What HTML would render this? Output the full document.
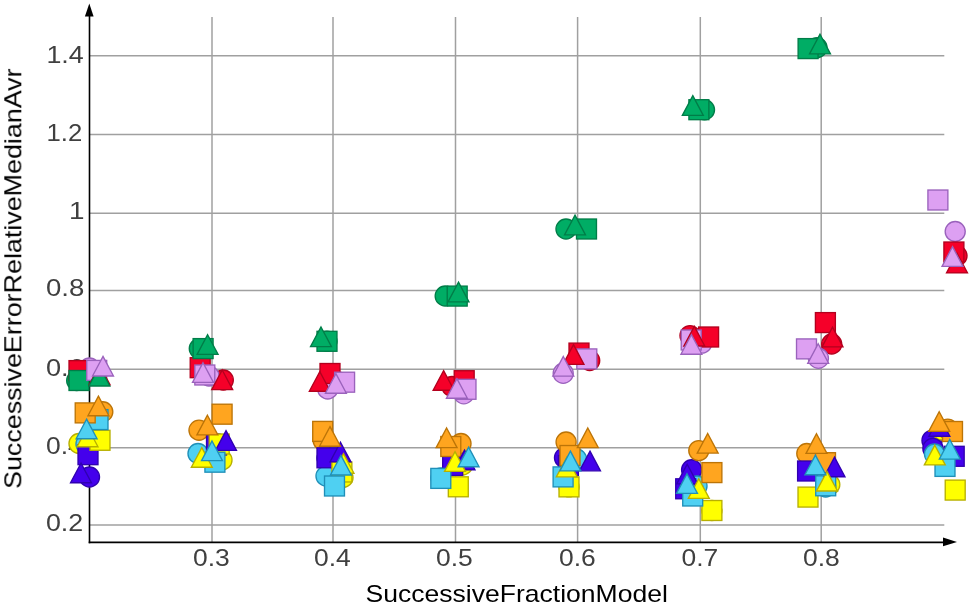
<!DOCTYPE html>
<html><head><meta charset="utf-8"><title>chart</title>
<style>
html,body{margin:0;padding:0;background:#fff;overflow:hidden;}
svg{display:block;}
text{filter:url(#gs);}
.tk{font-family:"Liberation Sans",sans-serif;font-size:24px;fill:#404040;}
.tt{font-family:"Liberation Sans",sans-serif;font-size:24px;fill:#000;}
</style></head>
<body>
<svg width="972" height="606" viewBox="0 0 972 606">
<defs><filter id="gs" x="-5%" y="-5%" width="110%" height="110%"><feColorMatrix type="identity"/></filter></defs>
<rect width="972" height="606" fill="#fff"/>
<line x1="212.0" y1="16.9" x2="212.0" y2="542" stroke="#a0a0a0" stroke-width="1.5"/>
<line x1="333.0" y1="16.9" x2="333.0" y2="542" stroke="#a0a0a0" stroke-width="1.5"/>
<line x1="455.5" y1="16.9" x2="455.5" y2="542" stroke="#a0a0a0" stroke-width="1.5"/>
<line x1="577.6" y1="16.9" x2="577.6" y2="542" stroke="#a0a0a0" stroke-width="1.5"/>
<line x1="700.3" y1="16.9" x2="700.3" y2="542" stroke="#a0a0a0" stroke-width="1.5"/>
<line x1="821.2" y1="16.9" x2="821.2" y2="542" stroke="#a0a0a0" stroke-width="1.5"/>
<line x1="90" y1="55.8" x2="944.3" y2="55.8" stroke="#a0a0a0" stroke-width="1.5"/>
<line x1="90" y1="134.4" x2="944.3" y2="134.4" stroke="#a0a0a0" stroke-width="1.5"/>
<line x1="90" y1="213.3" x2="944.3" y2="213.3" stroke="#a0a0a0" stroke-width="1.5"/>
<line x1="90" y1="290.5" x2="944.3" y2="290.5" stroke="#a0a0a0" stroke-width="1.5"/>
<line x1="90" y1="369.2" x2="944.3" y2="369.2" stroke="#a0a0a0" stroke-width="1.5"/>
<line x1="90" y1="447.8" x2="944.3" y2="447.8" stroke="#a0a0a0" stroke-width="1.5"/>
<line x1="90" y1="525.0" x2="944.3" y2="525.0" stroke="#a0a0a0" stroke-width="1.5"/>
<text x="46.45" y="62.5" class="tk" textLength="37.34" lengthAdjust="spacingAndGlyphs">1.4</text>
<text x="46.46" y="141.0" class="tk" textLength="35.75" lengthAdjust="spacingAndGlyphs">1.2</text>
<text x="68.95" y="219.0" class="tk" textLength="15.51" lengthAdjust="spacingAndGlyphs">1</text>
<text x="45.98" y="295.5" class="tk" textLength="38.37" lengthAdjust="spacingAndGlyphs">0.8</text>
<text x="45.98" y="375.5" class="tk" textLength="37.82" lengthAdjust="spacingAndGlyphs">0.6</text>
<text x="46.0" y="454.0" class="tk" textLength="36.79" lengthAdjust="spacingAndGlyphs">0.4</text>
<text x="45.96" y="531.0" class="tk" textLength="37.29" lengthAdjust="spacingAndGlyphs">0.2</text>
<text x="192.98" y="566.0" class="tk" textLength="36.78" lengthAdjust="spacingAndGlyphs">0.3</text>
<text x="313.98" y="566.0" class="tk" textLength="36.78" lengthAdjust="spacingAndGlyphs">0.4</text>
<text x="435.96" y="566.0" class="tk" textLength="36.8" lengthAdjust="spacingAndGlyphs">0.5</text>
<text x="558.98" y="566.0" class="tk" textLength="36.78" lengthAdjust="spacingAndGlyphs">0.6</text>
<text x="681.48" y="566.0" class="tk" textLength="36.78" lengthAdjust="spacingAndGlyphs">0.7</text>
<text x="802.96" y="566.0" class="tk" textLength="36.81" lengthAdjust="spacingAndGlyphs">0.8</text>
<line x1="89.5" y1="14" x2="89.5" y2="543.2" stroke="#000" stroke-width="1.6"/>
<line x1="88.7" y1="542.4" x2="945" y2="542.4" stroke="#000" stroke-width="1.6"/>
<path d="M89.3 3.5L93.6 16.5L84.9 16.5Z" fill="#000"/>
<path d="M957 541.9L943 537.5L943 546.3Z" fill="#000"/>
<text x="365.58" y="602.0" class="tt" textLength="302.31" lengthAdjust="spacingAndGlyphs">SuccessiveFractionModel</text>
<text transform="translate(21.3,488.9) rotate(-90)" class="tt" textLength="420.5" lengthAdjust="spacingAndGlyphs">SuccessiveErrorRelativeMedianAvr</text>
<circle cx="80.00" cy="372.00" r="10.02" fill="#f50029" stroke="#b3001e" stroke-width="1.35"/>
<circle cx="223.30" cy="380.00" r="10.02" fill="#f50029" stroke="#b3001e" stroke-width="1.35"/>
<circle cx="338.00" cy="382.00" r="10.02" fill="#f50029" stroke="#b3001e" stroke-width="1.35"/>
<circle cx="452.00" cy="386.50" r="10.02" fill="#f50029" stroke="#b3001e" stroke-width="1.35"/>
<circle cx="589.70" cy="360.50" r="10.02" fill="#f50029" stroke="#b3001e" stroke-width="1.35"/>
<circle cx="690.00" cy="335.60" r="10.02" fill="#f50029" stroke="#b3001e" stroke-width="1.35"/>
<circle cx="831.70" cy="344.00" r="10.02" fill="#f50029" stroke="#b3001e" stroke-width="1.35"/>
<circle cx="957.00" cy="255.80" r="10.02" fill="#f50029" stroke="#b3001e" stroke-width="1.35"/>
<circle cx="76.70" cy="380.50" r="10.02" fill="#00ad65" stroke="#007d48" stroke-width="1.35"/>
<circle cx="199.30" cy="348.60" r="10.02" fill="#00ad65" stroke="#007d48" stroke-width="1.35"/>
<circle cx="327.00" cy="341.30" r="10.02" fill="#00ad65" stroke="#007d48" stroke-width="1.35"/>
<circle cx="445.20" cy="296.00" r="10.02" fill="#00ad65" stroke="#007d48" stroke-width="1.35"/>
<circle cx="566.00" cy="229.00" r="10.02" fill="#00ad65" stroke="#007d48" stroke-width="1.35"/>
<circle cx="704.50" cy="109.80" r="10.02" fill="#00ad65" stroke="#007d48" stroke-width="1.35"/>
<circle cx="817.00" cy="47.60" r="10.02" fill="#00ad65" stroke="#007d48" stroke-width="1.35"/>
<circle cx="89.50" cy="368.00" r="10.02" fill="#dda0f2" stroke="#9a62bc" stroke-width="1.35"/>
<circle cx="209.00" cy="376.00" r="10.02" fill="#dda0f2" stroke="#9a62bc" stroke-width="1.35"/>
<circle cx="327.70" cy="389.00" r="10.02" fill="#dda0f2" stroke="#9a62bc" stroke-width="1.35"/>
<circle cx="463.80" cy="393.80" r="10.02" fill="#dda0f2" stroke="#9a62bc" stroke-width="1.35"/>
<circle cx="563.20" cy="373.30" r="10.02" fill="#dda0f2" stroke="#9a62bc" stroke-width="1.35"/>
<circle cx="701.80" cy="343.10" r="10.02" fill="#dda0f2" stroke="#9a62bc" stroke-width="1.35"/>
<circle cx="818.40" cy="358.30" r="10.02" fill="#dda0f2" stroke="#9a62bc" stroke-width="1.35"/>
<circle cx="955.20" cy="231.50" r="10.02" fill="#dda0f2" stroke="#9a62bc" stroke-width="1.35"/>
<circle cx="89.50" cy="477.00" r="10.02" fill="#4400ec" stroke="#3000b0" stroke-width="1.35"/>
<circle cx="218.00" cy="444.00" r="10.02" fill="#4400ec" stroke="#3000b0" stroke-width="1.35"/>
<circle cx="327.00" cy="458.00" r="10.02" fill="#4400ec" stroke="#3000b0" stroke-width="1.35"/>
<circle cx="452.70" cy="465.50" r="10.02" fill="#4400ec" stroke="#3000b0" stroke-width="1.35"/>
<circle cx="564.50" cy="457.70" r="10.02" fill="#4400ec" stroke="#3000b0" stroke-width="1.35"/>
<circle cx="691.60" cy="469.80" r="10.02" fill="#4400ec" stroke="#3000b0" stroke-width="1.35"/>
<circle cx="810.00" cy="468.00" r="10.02" fill="#4400ec" stroke="#3000b0" stroke-width="1.35"/>
<circle cx="932.00" cy="440.40" r="10.02" fill="#4400ec" stroke="#3000b0" stroke-width="1.35"/>
<circle cx="79.00" cy="443.50" r="10.02" fill="#ffff00" stroke="#b8b000" stroke-width="1.35"/>
<circle cx="222.00" cy="460.00" r="10.02" fill="#ffff00" stroke="#b8b000" stroke-width="1.35"/>
<circle cx="343.00" cy="477.50" r="10.02" fill="#ffff00" stroke="#b8b000" stroke-width="1.35"/>
<circle cx="462.50" cy="465.00" r="10.02" fill="#ffff00" stroke="#b8b000" stroke-width="1.35"/>
<circle cx="569.00" cy="486.90" r="10.02" fill="#ffff00" stroke="#b8b000" stroke-width="1.35"/>
<circle cx="711.90" cy="510.50" r="10.02" fill="#ffff00" stroke="#b8b000" stroke-width="1.35"/>
<circle cx="829.80" cy="484.60" r="10.02" fill="#ffff00" stroke="#b8b000" stroke-width="1.35"/>
<circle cx="942.00" cy="430.00" r="10.02" fill="#ffff00" stroke="#b8b000" stroke-width="1.35"/>
<circle cx="932.90" cy="448.40" r="10.02" fill="#4400ec" stroke="#3000b0" stroke-width="1.35"/>
<circle cx="86.00" cy="444.00" r="10.02" fill="#4fd0f2" stroke="#1f8fb8" stroke-width="1.35"/>
<circle cx="198.00" cy="453.50" r="10.02" fill="#4fd0f2" stroke="#1f8fb8" stroke-width="1.35"/>
<circle cx="326.00" cy="476.00" r="10.02" fill="#4fd0f2" stroke="#1f8fb8" stroke-width="1.35"/>
<circle cx="441.00" cy="478.00" r="10.02" fill="#4fd0f2" stroke="#1f8fb8" stroke-width="1.35"/>
<circle cx="576.50" cy="459.00" r="10.02" fill="#4fd0f2" stroke="#1f8fb8" stroke-width="1.35"/>
<circle cx="697.00" cy="486.00" r="10.02" fill="#4fd0f2" stroke="#1f8fb8" stroke-width="1.35"/>
<circle cx="825.70" cy="487.00" r="10.02" fill="#4fd0f2" stroke="#1f8fb8" stroke-width="1.35"/>
<circle cx="934.50" cy="454.00" r="10.02" fill="#4fd0f2" stroke="#1f8fb8" stroke-width="1.35"/>
<circle cx="102.80" cy="411.80" r="10.02" fill="#ffa51f" stroke="#bc7407" stroke-width="1.35"/>
<circle cx="199.00" cy="430.20" r="10.02" fill="#ffa51f" stroke="#bc7407" stroke-width="1.35"/>
<circle cx="323.20" cy="440.50" r="10.02" fill="#ffa51f" stroke="#bc7407" stroke-width="1.35"/>
<circle cx="461.00" cy="443.50" r="10.02" fill="#ffa51f" stroke="#bc7407" stroke-width="1.35"/>
<circle cx="566.10" cy="442.00" r="10.02" fill="#ffa51f" stroke="#bc7407" stroke-width="1.35"/>
<circle cx="698.80" cy="450.60" r="10.02" fill="#ffa51f" stroke="#bc7407" stroke-width="1.35"/>
<circle cx="806.80" cy="453.50" r="10.02" fill="#ffa51f" stroke="#bc7407" stroke-width="1.35"/>
<circle cx="947.70" cy="429.10" r="10.02" fill="#ffa51f" stroke="#bc7407" stroke-width="1.35"/>
<rect x="69.03" y="360.62" width="19.95" height="19.95" fill="#f50029" stroke="#b3001e" stroke-width="1.35"/>
<rect x="190.22" y="357.72" width="19.95" height="19.95" fill="#f50029" stroke="#b3001e" stroke-width="1.35"/>
<rect x="320.02" y="363.52" width="19.95" height="19.95" fill="#f50029" stroke="#b3001e" stroke-width="1.35"/>
<rect x="454.22" y="370.72" width="19.95" height="19.95" fill="#f50029" stroke="#b3001e" stroke-width="1.35"/>
<rect x="569.02" y="343.12" width="19.95" height="19.95" fill="#f50029" stroke="#b3001e" stroke-width="1.35"/>
<rect x="698.62" y="327.02" width="19.95" height="19.95" fill="#f50029" stroke="#b3001e" stroke-width="1.35"/>
<rect x="815.42" y="312.62" width="19.95" height="19.95" fill="#f50029" stroke="#b3001e" stroke-width="1.35"/>
<rect x="943.92" y="242.03" width="19.95" height="19.95" fill="#f50029" stroke="#b3001e" stroke-width="1.35"/>
<rect x="69.03" y="370.52" width="19.95" height="19.95" fill="#00ad65" stroke="#007d48" stroke-width="1.35"/>
<rect x="193.12" y="338.62" width="19.95" height="19.95" fill="#00ad65" stroke="#007d48" stroke-width="1.35"/>
<rect x="317.02" y="331.32" width="19.95" height="19.95" fill="#00ad65" stroke="#007d48" stroke-width="1.35"/>
<rect x="447.22" y="286.12" width="19.95" height="19.95" fill="#00ad65" stroke="#007d48" stroke-width="1.35"/>
<rect x="576.52" y="219.03" width="19.95" height="19.95" fill="#00ad65" stroke="#007d48" stroke-width="1.35"/>
<rect x="688.92" y="99.73" width="19.95" height="19.95" fill="#00ad65" stroke="#007d48" stroke-width="1.35"/>
<rect x="798.12" y="38.62" width="19.95" height="19.95" fill="#00ad65" stroke="#007d48" stroke-width="1.35"/>
<rect x="86.73" y="360.42" width="19.95" height="19.95" fill="#dda0f2" stroke="#9a62bc" stroke-width="1.35"/>
<rect x="194.83" y="365.02" width="19.95" height="19.95" fill="#dda0f2" stroke="#9a62bc" stroke-width="1.35"/>
<rect x="334.62" y="372.22" width="19.95" height="19.95" fill="#dda0f2" stroke="#9a62bc" stroke-width="1.35"/>
<rect x="456.02" y="379.32" width="19.95" height="19.95" fill="#dda0f2" stroke="#9a62bc" stroke-width="1.35"/>
<rect x="576.82" y="348.92" width="19.95" height="19.95" fill="#dda0f2" stroke="#9a62bc" stroke-width="1.35"/>
<rect x="681.23" y="330.02" width="19.95" height="19.95" fill="#dda0f2" stroke="#9a62bc" stroke-width="1.35"/>
<rect x="796.52" y="338.92" width="19.95" height="19.95" fill="#dda0f2" stroke="#9a62bc" stroke-width="1.35"/>
<rect x="927.92" y="190.03" width="19.95" height="19.95" fill="#dda0f2" stroke="#9a62bc" stroke-width="1.35"/>
<rect x="78.03" y="444.72" width="19.95" height="19.95" fill="#4400ec" stroke="#3000b0" stroke-width="1.35"/>
<rect x="206.53" y="435.02" width="19.95" height="19.95" fill="#4400ec" stroke="#3000b0" stroke-width="1.35"/>
<rect x="317.02" y="447.82" width="19.95" height="19.95" fill="#4400ec" stroke="#3000b0" stroke-width="1.35"/>
<rect x="442.72" y="455.52" width="19.95" height="19.95" fill="#4400ec" stroke="#3000b0" stroke-width="1.35"/>
<rect x="558.42" y="455.52" width="19.95" height="19.95" fill="#4400ec" stroke="#3000b0" stroke-width="1.35"/>
<rect x="675.73" y="478.82" width="19.95" height="19.95" fill="#4400ec" stroke="#3000b0" stroke-width="1.35"/>
<rect x="797.62" y="461.02" width="19.95" height="19.95" fill="#4400ec" stroke="#3000b0" stroke-width="1.35"/>
<rect x="944.23" y="446.32" width="19.95" height="19.95" fill="#4400ec" stroke="#3000b0" stroke-width="1.35"/>
<rect x="90.03" y="430.32" width="19.95" height="19.95" fill="#ffff00" stroke="#b8b000" stroke-width="1.35"/>
<rect x="209.22" y="434.02" width="19.95" height="19.95" fill="#ffff00" stroke="#b8b000" stroke-width="1.35"/>
<rect x="331.92" y="462.02" width="19.95" height="19.95" fill="#ffff00" stroke="#b8b000" stroke-width="1.35"/>
<rect x="448.32" y="476.82" width="19.95" height="19.95" fill="#ffff00" stroke="#b8b000" stroke-width="1.35"/>
<rect x="559.02" y="476.92" width="19.95" height="19.95" fill="#ffff00" stroke="#b8b000" stroke-width="1.35"/>
<rect x="701.92" y="500.52" width="19.95" height="19.95" fill="#ffff00" stroke="#b8b000" stroke-width="1.35"/>
<rect x="798.02" y="487.12" width="19.95" height="19.95" fill="#ffff00" stroke="#b8b000" stroke-width="1.35"/>
<rect x="945.23" y="480.12" width="19.95" height="19.95" fill="#ffff00" stroke="#b8b000" stroke-width="1.35"/>
<rect x="88.03" y="409.62" width="19.95" height="19.95" fill="#4fd0f2" stroke="#1f8fb8" stroke-width="1.35"/>
<rect x="204.93" y="452.22" width="19.95" height="19.95" fill="#4fd0f2" stroke="#1f8fb8" stroke-width="1.35"/>
<rect x="324.52" y="476.02" width="19.95" height="19.95" fill="#4fd0f2" stroke="#1f8fb8" stroke-width="1.35"/>
<rect x="430.82" y="468.42" width="19.95" height="19.95" fill="#4fd0f2" stroke="#1f8fb8" stroke-width="1.35"/>
<rect x="553.12" y="466.92" width="19.95" height="19.95" fill="#4fd0f2" stroke="#1f8fb8" stroke-width="1.35"/>
<rect x="682.73" y="486.02" width="19.95" height="19.95" fill="#4fd0f2" stroke="#1f8fb8" stroke-width="1.35"/>
<rect x="815.73" y="475.82" width="19.95" height="19.95" fill="#4fd0f2" stroke="#1f8fb8" stroke-width="1.35"/>
<rect x="935.02" y="456.42" width="19.95" height="19.95" fill="#4fd0f2" stroke="#1f8fb8" stroke-width="1.35"/>
<rect x="75.23" y="402.92" width="19.95" height="19.95" fill="#ffa51f" stroke="#bc7407" stroke-width="1.35"/>
<rect x="212.12" y="404.22" width="19.95" height="19.95" fill="#ffa51f" stroke="#bc7407" stroke-width="1.35"/>
<rect x="312.72" y="421.42" width="19.95" height="19.95" fill="#ffa51f" stroke="#bc7407" stroke-width="1.35"/>
<rect x="440.82" y="436.52" width="19.95" height="19.95" fill="#ffa51f" stroke="#bc7407" stroke-width="1.35"/>
<rect x="560.02" y="445.52" width="19.95" height="19.95" fill="#ffa51f" stroke="#bc7407" stroke-width="1.35"/>
<rect x="701.92" y="462.62" width="19.95" height="19.95" fill="#ffa51f" stroke="#bc7407" stroke-width="1.35"/>
<rect x="815.52" y="452.72" width="19.95" height="19.95" fill="#ffa51f" stroke="#bc7407" stroke-width="1.35"/>
<rect x="942.52" y="421.52" width="19.95" height="19.95" fill="#ffa51f" stroke="#bc7407" stroke-width="1.35"/>
<path d="M99.60 365.18L110.06 384.82L89.14 384.82Z" fill="#f50029" stroke="#b3001e" stroke-width="1.35" stroke-linejoin="miter"/>
<path d="M222.20 369.98L232.66 389.62L211.74 389.62Z" fill="#f50029" stroke="#b3001e" stroke-width="1.35" stroke-linejoin="miter"/>
<path d="M319.80 371.58L330.26 391.22L309.34 391.22Z" fill="#f50029" stroke="#b3001e" stroke-width="1.35" stroke-linejoin="miter"/>
<path d="M443.60 370.58L454.06 390.22L433.14 390.22Z" fill="#f50029" stroke="#b3001e" stroke-width="1.35" stroke-linejoin="miter"/>
<path d="M573.50 344.68L583.96 364.32L563.04 364.32Z" fill="#f50029" stroke="#b3001e" stroke-width="1.35" stroke-linejoin="miter"/>
<path d="M694.30 326.38L704.76 346.02L683.84 346.02Z" fill="#f50029" stroke="#b3001e" stroke-width="1.35" stroke-linejoin="miter"/>
<path d="M832.50 327.18L842.96 346.82L822.04 346.82Z" fill="#f50029" stroke="#b3001e" stroke-width="1.35" stroke-linejoin="miter"/>
<path d="M957.00 253.28L967.46 272.92L946.54 272.92Z" fill="#f50029" stroke="#b3001e" stroke-width="1.35" stroke-linejoin="miter"/>
<path d="M99.40 366.38L109.86 386.02L88.94 386.02Z" fill="#00ad65" stroke="#007d48" stroke-width="1.35" stroke-linejoin="miter"/>
<path d="M207.60 334.78L218.06 354.42L197.14 354.42Z" fill="#00ad65" stroke="#007d48" stroke-width="1.35" stroke-linejoin="miter"/>
<path d="M321.00 326.98L331.46 346.62L310.54 346.62Z" fill="#00ad65" stroke="#007d48" stroke-width="1.35" stroke-linejoin="miter"/>
<path d="M458.50 282.18L468.96 301.82L448.04 301.82Z" fill="#00ad65" stroke="#007d48" stroke-width="1.35" stroke-linejoin="miter"/>
<path d="M575.00 215.18L585.46 234.82L564.54 234.82Z" fill="#00ad65" stroke="#007d48" stroke-width="1.35" stroke-linejoin="miter"/>
<path d="M692.80 95.68L703.26 115.33L682.34 115.33Z" fill="#00ad65" stroke="#007d48" stroke-width="1.35" stroke-linejoin="miter"/>
<path d="M820.00 34.28L830.46 53.93L809.54 53.93Z" fill="#00ad65" stroke="#007d48" stroke-width="1.35" stroke-linejoin="miter"/>
<path d="M103.00 356.38L113.46 376.02L92.54 376.02Z" fill="#dda0f2" stroke="#9a62bc" stroke-width="1.35" stroke-linejoin="miter"/>
<path d="M203.00 362.78L213.46 382.42L192.54 382.42Z" fill="#dda0f2" stroke="#9a62bc" stroke-width="1.35" stroke-linejoin="miter"/>
<path d="M335.90 373.58L346.36 393.22L325.44 393.22Z" fill="#dda0f2" stroke="#9a62bc" stroke-width="1.35" stroke-linejoin="miter"/>
<path d="M456.90 378.58L467.36 398.22L446.44 398.22Z" fill="#dda0f2" stroke="#9a62bc" stroke-width="1.35" stroke-linejoin="miter"/>
<path d="M563.30 356.48L573.76 376.12L552.84 376.12Z" fill="#dda0f2" stroke="#9a62bc" stroke-width="1.35" stroke-linejoin="miter"/>
<path d="M691.40 334.58L701.86 354.22L680.94 354.22Z" fill="#dda0f2" stroke="#9a62bc" stroke-width="1.35" stroke-linejoin="miter"/>
<path d="M818.20 343.78L828.66 363.42L807.74 363.42Z" fill="#dda0f2" stroke="#9a62bc" stroke-width="1.35" stroke-linejoin="miter"/>
<path d="M952.50 246.68L962.96 266.32L942.04 266.32Z" fill="#dda0f2" stroke="#9a62bc" stroke-width="1.35" stroke-linejoin="miter"/>
<path d="M81.00 463.08L91.46 482.72L70.54 482.72Z" fill="#4400ec" stroke="#3000b0" stroke-width="1.35" stroke-linejoin="miter"/>
<path d="M226.00 430.68L236.46 450.32L215.54 450.32Z" fill="#4400ec" stroke="#3000b0" stroke-width="1.35" stroke-linejoin="miter"/>
<path d="M340.50 442.28L350.96 461.92L330.04 461.92Z" fill="#4400ec" stroke="#3000b0" stroke-width="1.35" stroke-linejoin="miter"/>
<path d="M464.50 450.08L474.96 469.72L454.04 469.72Z" fill="#4400ec" stroke="#3000b0" stroke-width="1.35" stroke-linejoin="miter"/>
<path d="M590.00 451.18L600.46 470.82L579.54 470.82Z" fill="#4400ec" stroke="#3000b0" stroke-width="1.35" stroke-linejoin="miter"/>
<path d="M687.20 464.28L697.66 483.92L676.74 483.92Z" fill="#4400ec" stroke="#3000b0" stroke-width="1.35" stroke-linejoin="miter"/>
<path d="M834.50 457.08L844.96 476.72L824.04 476.72Z" fill="#4400ec" stroke="#3000b0" stroke-width="1.35" stroke-linejoin="miter"/>
<path d="M939.40 416.58L949.86 436.22L928.94 436.22Z" fill="#4400ec" stroke="#3000b0" stroke-width="1.35" stroke-linejoin="miter"/>
<path d="M87.50 427.08L97.96 446.72L77.04 446.72Z" fill="#ffff00" stroke="#b8b000" stroke-width="1.35" stroke-linejoin="miter"/>
<path d="M201.80 447.58L212.26 467.22L191.34 467.22Z" fill="#ffff00" stroke="#b8b000" stroke-width="1.35" stroke-linejoin="miter"/>
<path d="M343.50 453.58L353.96 473.22L333.04 473.22Z" fill="#ffff00" stroke="#b8b000" stroke-width="1.35" stroke-linejoin="miter"/>
<path d="M455.00 451.68L465.46 471.32L444.54 471.32Z" fill="#ffff00" stroke="#b8b000" stroke-width="1.35" stroke-linejoin="miter"/>
<path d="M566.80 457.28L577.26 476.92L556.34 476.92Z" fill="#ffff00" stroke="#b8b000" stroke-width="1.35" stroke-linejoin="miter"/>
<path d="M698.80 478.78L709.26 498.42L688.34 498.42Z" fill="#ffff00" stroke="#b8b000" stroke-width="1.35" stroke-linejoin="miter"/>
<path d="M827.00 471.38L837.46 491.02L816.54 491.02Z" fill="#ffff00" stroke="#b8b000" stroke-width="1.35" stroke-linejoin="miter"/>
<path d="M934.80 445.28L945.26 464.92L924.34 464.92Z" fill="#ffff00" stroke="#b8b000" stroke-width="1.35" stroke-linejoin="miter"/>
<path d="M86.60 419.08L97.06 438.72L76.14 438.72Z" fill="#4fd0f2" stroke="#1f8fb8" stroke-width="1.35" stroke-linejoin="miter"/>
<path d="M212.00 440.98L222.46 460.62L201.54 460.62Z" fill="#4fd0f2" stroke="#1f8fb8" stroke-width="1.35" stroke-linejoin="miter"/>
<path d="M340.90 455.38L351.36 475.02L330.44 475.02Z" fill="#4fd0f2" stroke="#1f8fb8" stroke-width="1.35" stroke-linejoin="miter"/>
<path d="M468.60 447.08L479.06 466.72L458.14 466.72Z" fill="#4fd0f2" stroke="#1f8fb8" stroke-width="1.35" stroke-linejoin="miter"/>
<path d="M570.40 451.18L580.86 470.82L559.94 470.82Z" fill="#4fd0f2" stroke="#1f8fb8" stroke-width="1.35" stroke-linejoin="miter"/>
<path d="M687.00 473.78L697.46 493.42L676.54 493.42Z" fill="#4fd0f2" stroke="#1f8fb8" stroke-width="1.35" stroke-linejoin="miter"/>
<path d="M815.40 455.08L825.86 474.72L804.94 474.72Z" fill="#4fd0f2" stroke="#1f8fb8" stroke-width="1.35" stroke-linejoin="miter"/>
<path d="M949.80 439.48L960.26 459.12L939.34 459.12Z" fill="#4fd0f2" stroke="#1f8fb8" stroke-width="1.35" stroke-linejoin="miter"/>
<path d="M98.40 396.08L108.86 415.72L87.94 415.72Z" fill="#ffa51f" stroke="#bc7407" stroke-width="1.35" stroke-linejoin="miter"/>
<path d="M207.40 415.28L217.86 434.92L196.94 434.92Z" fill="#ffa51f" stroke="#bc7407" stroke-width="1.35" stroke-linejoin="miter"/>
<path d="M330.00 426.58L340.46 446.22L319.54 446.22Z" fill="#ffa51f" stroke="#bc7407" stroke-width="1.35" stroke-linejoin="miter"/>
<path d="M446.60 427.98L457.06 447.62L436.14 447.62Z" fill="#ffa51f" stroke="#bc7407" stroke-width="1.35" stroke-linejoin="miter"/>
<path d="M587.80 427.98L598.26 447.62L577.34 447.62Z" fill="#ffa51f" stroke="#bc7407" stroke-width="1.35" stroke-linejoin="miter"/>
<path d="M707.70 433.48L718.16 453.12L697.24 453.12Z" fill="#ffa51f" stroke="#bc7407" stroke-width="1.35" stroke-linejoin="miter"/>
<path d="M816.50 433.78L826.96 453.42L806.04 453.42Z" fill="#ffa51f" stroke="#bc7407" stroke-width="1.35" stroke-linejoin="miter"/>
<path d="M939.20 411.78L949.66 431.42L928.74 431.42Z" fill="#ffa51f" stroke="#bc7407" stroke-width="1.35" stroke-linejoin="miter"/>
</svg>
</body></html>
